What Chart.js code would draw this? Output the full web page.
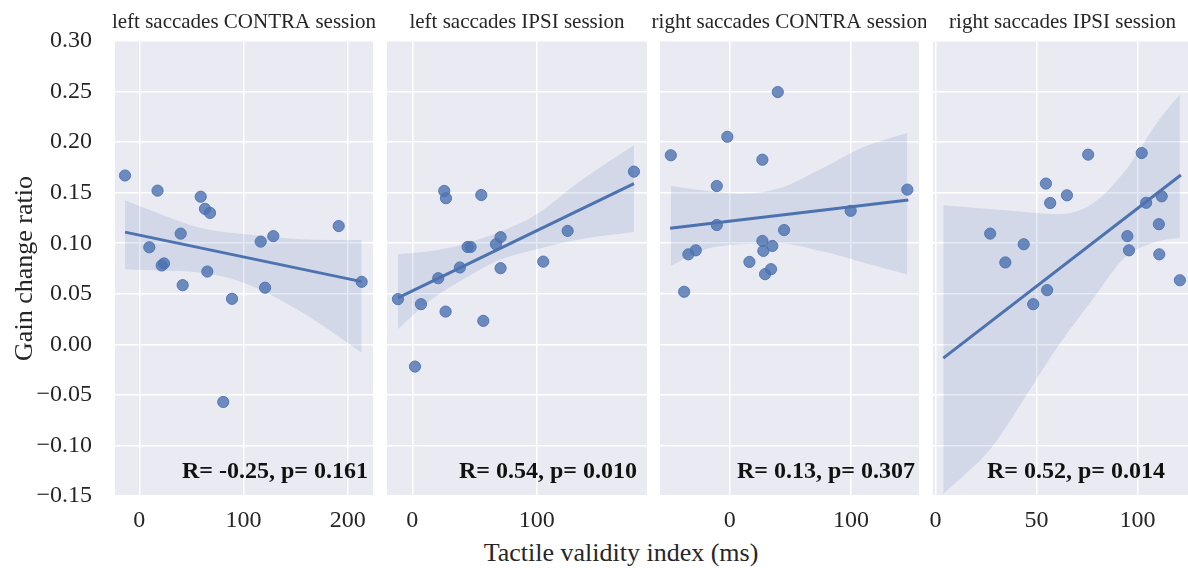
<!DOCTYPE html>
<html>
<head>
<meta charset="utf-8">
<title>Gain change ratio vs tactile validity index</title>
<script src="https://cdn.jsdelivr.net/npm/chart.js@4.4.1/dist/chart.umd.min.js"></script>
<style>
  html, body { margin: 0; padding: 0; background: #fff; }
  #figure { position: relative; width: 1188px; height: 568px; overflow: hidden; }
  #figure canvas { position: absolute; top: 0; }
  #xlabel {
    position: absolute; left: 421px; width: 400px; top: 538px;
    text-align: center; white-space: nowrap;
    font: 26px "Liberation Serif", "Times New Roman", serif;
    line-height: 30px; color: #262626;
  }
</style>
</head>
<body>
<div id="figure">
  <div id="xlabel">Tactile validity index (ms)</div>
</div>
<script>
const SERIF = '"Liberation Serif", "Times New Roman", serif';
const BLUE = '#4C72B0';
const INK = '#262626';

// facet titles and the stats printed in each facet
const titles = [
  'left saccades CONTRA session',
  'left saccades IPSI session',
  'right saccades CONTRA session',
  'right saccades IPSI session'
];
const stats = [
  'R= -0.25, p= 0.161',
  'R= 0.54, p= 0.010',
  'R= 0.13, p= 0.307',
  'R= 0.52, p= 0.014'
];

const yTicks = [-0.15, -0.10, -0.05, 0.00, 0.05, 0.10, 0.15, 0.20, 0.25, 0.30];
const xTicks = [[0, 100, 200], [0, 100], [0, 100], [0, 50, 100]];
const xRange = [[-23.3, 224.1], [-20.3, 188.7], [-57.5, 156], [-1.2, 127]];

// subjects: tactile validity index (ms) and gain change ratio
const pointsX = [
  [-13.7, 17.5, 58.9, 63.0, 67.8, 39.7, 9.6, 21.5, 23.7, 116.4, 128.5, 191.2, 65.2, 41.6, 120.6, 88.9, 213.2, 80.5],
  [25.7, 27.1, 55.5, 178.2, 124.9, 71, 67.3, 44.5, 46.9, 105.3, 38.3, 71, 20.9, -11.5, 7, 26.8, 57.1, 2.2],
  [39.6, -2, -48.6, 26.9, -10.7, 146.4, 99.7, -10.7, 44.8, 26.9, 35.1, 27.7, -28, -34.1, 16.2, 34, 29.1, -37.6],
  [75.6, 102.1, 54.7, 65.1, 56.8, 112, 104.3, 110.6, 27.1, 95, 43.7, 95.8, 110.8, 34.6, 121, 55.3, 48.4]
];
const pointsY = [
  [0.167, 0.152, 0.146, 0.134, 0.130, 0.1095, 0.096, 0.078, 0.080, 0.1016, 0.107, 0.117, 0.072, 0.0585, 0.056, 0.045, 0.0618, -0.057],
  [0.1517, 0.1445, 0.1477, 0.1708, 0.1122, 0.106, 0.099, 0.0963, 0.0963, 0.0818, 0.076, 0.0753, 0.0654, 0.0447, 0.0397, 0.0324, 0.0232, -0.022],
  [0.2495, 0.2053, 0.187, 0.1826, 0.1566, 0.153, 0.132, 0.118, 0.113, 0.1023, 0.0973, 0.0924, 0.093, 0.089, 0.0815, 0.0743, 0.0694, 0.052],
  [0.1876, 0.1892, 0.159, 0.1474, 0.1398, 0.1464, 0.140, 0.1188, 0.1095, 0.107, 0.099, 0.093, 0.089, 0.081, 0.0634, 0.0536, 0.0397]
];

// regression line end points
const fitX = [[-13.7, 213.2], [-11.5, 178.2], [-49.2, 147.2], [3.9, 121.5]];
const fitY = [[0.111, 0.062], [0.046, 0.159], [0.1148, 0.1428], [-0.0136, 0.1675]];

// 95% confidence band
const bandX = [
  [-13.7, 20, 58, 100, 154, 213.2],
  [-11.5, 14, 41, 68, 100, 135, 178.2],
  [-48.6, -20, 10, 40, 76, 110, 146.4],
  [3.9, 27.8, 44.3, 60.8, 77.3, 93.8, 110.3, 121]
];
const bandHigh = [
  [0.1425, 0.129, 0.1154, 0.109, 0.104, 0.103],
  [0.089, 0.092, 0.099, 0.110, 0.1287, 0.1616, 0.197],
  [0.1566, 0.152, 0.149, 0.154, 0.174, 0.195, 0.209],
  [0.1375, 0.1336, 0.131, 0.1287, 0.1385, 0.1714, 0.221, 0.247]
];
const bandLow = [
  [0.0743, 0.073, 0.071, 0.061, 0.033, -0.008],
  [0.015, 0.043, 0.0644, 0.0825, 0.094, 0.104, 0.111],
  [0.0776, 0.094, 0.099, 0.100, 0.092, 0.081, 0.069],
  [-0.148, -0.102, -0.0526, -0.0015, 0.043, 0.0858, 0.102, 0.1055]
];

// where each facet sits on the page
const frames = [
  { left: 0, axisW: 115, plotW: 258, statX: 67 },
  { left: 347, axisW: 40, plotW: 260, statX: 72 },
  { left: 620, axisW: 40, plotW: 259, statX: 77 },
  { left: 893, axisW: 40, plotW: 259, statX: 54 }
];
const PAD_TOP = 41;
const PAD_RIGHT = 7;
const X_AXIS_H = 72;
const HEIGHT = 568;

const xy = (xs, ys) => xs.map((x, k) => ({ x, y: ys[k] }));
const fmtY = v => (v < 0 ? '\u2212' : '') + Math.abs(v).toFixed(2);

// grey panel background, facet title and stats text
const facetDecor = {
  id: 'facetDecor',
  beforeDraw(chart) {
    const a = chart.chartArea;
    const ctx = chart.ctx;
    ctx.save();
    ctx.fillStyle = '#EAEAF2';
    ctx.fillRect(a.left, a.top, a.right - a.left, a.bottom - a.top);
    ctx.restore();
  },
  afterDraw(chart, args, opts) {
    const a = chart.chartArea;
    const ctx = chart.ctx;
    ctx.save();
    ctx.textBaseline = 'alphabetic';
    ctx.fillStyle = INK;
    ctx.font = `21px ${SERIF}`;
    ctx.textAlign = 'center';
    ctx.fillText(opts.title, (a.left + a.right) / 2, a.top - 13);
    ctx.fillStyle = '#111';
    ctx.font = `bold 24px ${SERIF}`;
    ctx.textAlign = 'left';
    ctx.fillText(opts.stat, a.left + opts.statX, a.bottom - 18);
    ctx.restore();
  }
};

const figure = document.getElementById('figure');

frames.forEach((f, i) => {
  const canvas = document.createElement('canvas');
  canvas.width = f.axisW + f.plotW + PAD_RIGHT;
  canvas.height = HEIGHT;
  canvas.style.left = f.left + 'px';
  figure.appendChild(canvas);

  const gridOpts = { color: '#ffffff', lineWidth: 1.5, drawTicks: false };

  new Chart(canvas, {
    type: 'scatter',
    data: {
      datasets: [
        {
          data: xy(fitX[i], fitY[i]),
          showLine: true, borderColor: BLUE, borderWidth: 3,
          pointRadius: 0, fill: false
        },
        {
          data: xy(bandX[i], bandHigh[i]),
          showLine: true, borderColor: 'rgba(0,0,0,0)', borderWidth: 0,
          pointRadius: 0, cubicInterpolationMode: 'monotone',
          fill: 2, backgroundColor: 'rgba(76,114,176,0.15)'
        },
        {
          data: xy(bandX[i], bandLow[i]),
          showLine: true, borderColor: 'rgba(0,0,0,0)', borderWidth: 0,
          pointRadius: 0, cubicInterpolationMode: 'monotone', fill: false
        },
        {
          data: xy(pointsX[i], pointsY[i]),
          pointRadius: 5.6,
          backgroundColor: 'rgba(76,114,176,0.8)',
          borderColor: 'rgba(76,114,176,0.9)',
          borderWidth: 1
        }
      ]
    },
    options: {
      responsive: false,
      animation: false,
      devicePixelRatio: 1,
      events: [],
      layout: { padding: { top: PAD_TOP, right: PAD_RIGHT, left: 0, bottom: 0 } },
      plugins: {
        legend: { display: false },
        tooltip: { enabled: false },
        facetDecor: { title: titles[i], stat: stats[i], statX: f.statX }
      },
      scales: {
        x: {
          type: 'linear',
          min: xRange[i][0],
          max: xRange[i][1],
          afterBuildTicks: s => { s.ticks = xTicks[i].map(v => ({ value: v })); },
          afterFit: s => { s.height = X_AXIS_H; },
          grid: gridOpts,
          border: { display: false },
          ticks: {
            color: INK, padding: 10, maxRotation: 0, autoSkip: false,
            font: { family: SERIF, size: 24 },
            callback: v => String(v)
          }
        },
        y: {
          type: 'linear',
          min: -0.15,
          max: 0.30,
          afterBuildTicks: s => { s.ticks = yTicks.map(v => ({ value: v })); },
          afterFit: s => { s.width = f.axisW; },
          grid: gridOpts,
          border: { display: false },
          ticks: {
            display: i === 0,
            color: INK, padding: 23,
            font: { family: SERIF, size: 24 },
            callback: fmtY
          },
          title: {
            display: i === 0,
            text: 'Gain change ratio',
            color: INK,
            font: { family: SERIF, size: 26 },
            padding: { top: 10, bottom: 0 }
          }
        }
      }
    },
    plugins: [facetDecor]
  });
});
</script>
</body>
</html>
